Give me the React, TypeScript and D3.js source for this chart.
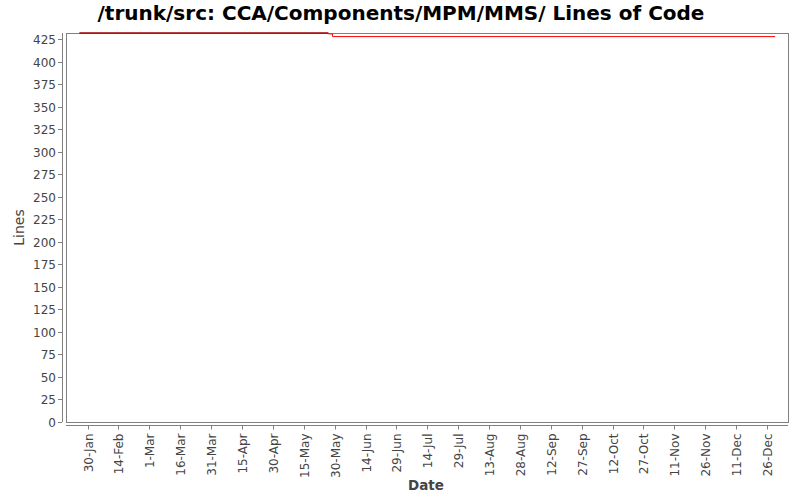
import { useMemo } from 'react';
import * as d3 from 'd3';

const TITLE = '/trunk/src: CCA/Components/MPM/MMS/ Lines of Code';

// first series (dark red), then the later series (red)
const seriesA = [
  { date: '2007-01-26', lines: 432 },
  { date: '2007-05-27', lines: 432 },
];
const seriesB = [
  { date: '2007-05-27', lines: 431 },
  { date: '2007-05-29', lines: 428 },
  { date: '2007-12-30', lines: 428 },
];

const xTickDates = [
  '2007-01-30', '2007-02-14', '2007-03-01', '2007-03-16', '2007-03-31', '2007-04-15',
  '2007-04-30', '2007-05-15', '2007-05-30', '2007-06-14', '2007-06-29', '2007-07-14',
  '2007-07-29', '2007-08-13', '2007-08-28', '2007-09-12', '2007-09-27', '2007-10-12',
  '2007-10-27', '2007-11-11', '2007-11-26', '2007-12-11', '2007-12-26',
];
const yTicks = d3.range(0, 426, 25);

const parse = d3.timeParse('%Y-%m-%d');
const fmt = d3.timeFormat('%-d-%b');

export default function App() {
  const width = 800;
  const height = 500;
  const plot = { left: 66, right: 788, top: 33, bottom: 421.5 };
  const font = '"DejaVu Sans", Verdana, sans-serif';
  const grey = '#808080';
  const textCol = '#444444';

  const x = useMemo(
    () =>
      d3
        .scaleTime()
        .domain([new Date(2007, 0, 19, 12), new Date(2008, 0, 5, 6)])
        .range([plot.left, plot.right]),
    []
  );
  const y = useMemo(() => d3.scaleLinear().domain([0, 432]).range([plot.bottom, plot.top]), []);

  const line = d3
    .line<{ date: string; lines: number }>()
    .x(d => x(parse(d.date)!))
    .y(d => y(d.lines))
    .curve(d3.curveStepAfter);

  return (
    <svg
      width={width}
      height={height}
      style={{ position: 'absolute', left: 0, top: 0, background: '#fff' }}
      fontFamily={font}
    >
      <rect width={width} height={height} fill="#fff" />
      <text x={401} y={20} textAnchor="middle" fontSize={20} fontWeight="bold" fill="#000">
        {TITLE}
      </text>

      {/* plot box */}
      <rect
        x={plot.left}
        y={plot.top}
        width={plot.right - plot.left}
        height={422 - plot.top}
        fill="#fff"
        stroke={grey}
        strokeWidth={1}
        shapeRendering="crispEdges"
      />

      {/* y axis */}
      <line x1={62} x2={62} y1={plot.top} y2={422} stroke={grey} shapeRendering="crispEdges" />
      {yTicks.map(t => (
        <g key={t} transform={`translate(0,${Math.round(y(t)) + 0.5})`}>
          <line x1={58} x2={62} stroke={grey} />
          <text x={56} dy="0.35em" textAnchor="end" fontSize={12} fill={textCol}>
            {t}
          </text>
        </g>
      ))}
      <text
        transform={`translate(24,${(plot.top + 422) / 2}) rotate(-90)`}
        textAnchor="middle"
        fontSize={14}
        fill={textCol}
      >
        Lines
      </text>

      {/* x axis */}
      <line x1={plot.left} x2={plot.right} y1={425.5} y2={425.5} stroke={grey} />
      {xTickDates.map(s => {
        const d = parse(s)!;
        const px = Math.round(x(d)) + 0.5;
        return (
          <g key={s} transform={`translate(${px},425.5)`}>
            <line y1={0} y2={4} stroke={grey} />
            <text
              transform="translate(0,8) rotate(-90)"
              textAnchor="end"
              dy="0.35em"
              fontSize={12}
              fill={textCol}
            >
              {fmt(d)}
            </text>
          </g>
        );
      })}
      <text x={426} y={490} textAnchor="middle" fontSize={13.5} fontWeight="bold" fill={textCol}>
        Date
      </text>

      {/* series */}
      <path d={line(seriesB) ?? ''} fill="none" stroke="#ff0000" strokeWidth={1} />
      <path d={line(seriesA) ?? ''} fill="none" stroke="#a00000" strokeWidth={1.5} />
    </svg>
  );
}
